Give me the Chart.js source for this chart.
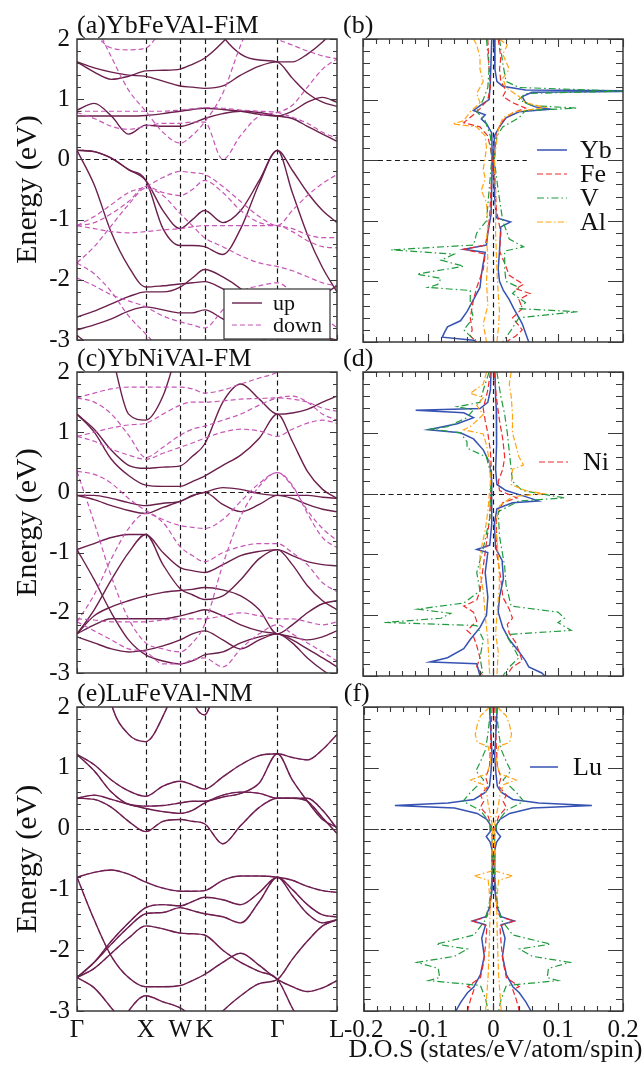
<!DOCTYPE html>
<html>
<head>
<meta charset="utf-8">
<script src="https://cdn.jsdelivr.net/npm/chart.js@4.4.1/dist/chart.umd.min.js"></script>
<style>
  body { margin: 0; background: #fff; font-family: "Liberation Serif", "DejaVu Serif", serif; }
  #wrap { position: relative; width: 643px; height: 1065px; overflow: hidden; }
  canvas { position: absolute; }
</style>
</head>
<body>
<div id="wrap">
  <canvas id="pa" width="360" height="362" style="left:0;top:0"></canvas>
  <canvas id="pb" width="303" height="362" style="left:340px;top:0"></canvas>
  <canvas id="pc" width="360" height="350" style="left:0;top:345px"></canvas>
  <canvas id="pd" width="303" height="350" style="left:340px;top:345px"></canvas>
  <canvas id="pe" width="360" height="387" style="left:0;top:678px"></canvas>
  <canvas id="pf" width="303" height="387" style="left:340px;top:678px"></canvas>
</div>
<script>
// k path: G X W K G L (FCC path lengths, 2pi/a)
const kGrid = [0, 0.25, 0.5, 0.75, 1, 1.25, 1.5, 1.677, 1.854, 2.12, 2.38, 2.65, 2.914, 3.13, 3.35, 3.57, 3.78];
const symK = [0, 1, 1.5, 1.854, 2.914, 3.78];
const symLabels = ['Γ', 'X', 'W', 'K', 'Γ', 'L'];

// (a) YbFeVAl-FiM bands, energies (eV) at kGrid
const aUp = [
  [0.15,-0.42,-1.22,-1.78,-2.12,-2.1,-2.07,-2.05,-2.03,-2.15,-2.32,-2.5,-2.62,-2.55,-2.4,-2.25,-2.1],
  [0.15,0.13,0.02,-0.17,-0.35,-0.85,-1.15,-1.0,-0.85,-1.05,-0.85,-0.35,0.15,-0.18,-0.55,-0.85,-1.05],
  [0.15,0.13,0.02,-0.17,-0.35,-1.15,-1.43,-1.43,-1.45,-1.58,-1.15,-0.4,0.15,-0.55,-1.25,-1.8,-2.2],
  [-2.62,-2.52,-2.4,-2.28,-2.2,-2.2,-2.12,-1.97,-1.83,-1.95,-2.15,-2.45,-2.75,-2.85,-2.9,-2.95,-3.0],
  [-2.83,-2.75,-2.65,-2.52,-2.45,-2.5,-2.55,-2.55,-2.5,-2.65,-2.8,-2.95,-3.1,-3.2,-3.2,-3.2,-3.2],
  [-2.92,-3.15,-3.4,-3.6,-3.6,-3.6,-3.6,-3.6,-3.6,-3.6,-3.6,-3.6,-3.6,-3.6,-3.6,-3.6,-3.6],
  [0.82,0.93,0.72,0.42,0.57,0.55,0.55,0.6,0.68,0.76,0.8,0.78,0.72,0.68,0.55,0.42,0.3],
  [0.72,0.72,0.72,0.72,0.73,0.76,0.8,0.83,0.85,0.83,0.8,0.75,0.72,0.8,0.95,1.03,0.95],
  [1.62,1.45,1.33,1.38,1.47,1.48,1.5,1.58,1.68,1.95,2.3,2.6,2.8,2.8,2.8,2.8,2.8],
  [1.62,1.52,1.45,1.4,1.38,1.3,1.22,1.2,1.18,1.22,1.4,1.55,1.62,1.62,1.75,1.95,2.2],
  [3,3,3,3,3,3,3,3,2.6,2.05,1.75,1.65,1.62,1.35,1.1,0.95,0.88]
];
const aDn = [
  [2.5,2.1,1.85,1.82,1.85,2.2,2.6,3,3,3,3,3,3,3,3,3,3],
  [3,2.3,1.7,1.15,0.8,0.45,0.27,0.4,0.62,1.1,1.9,2.6,3,3,3,3,3],
  [0.8,0.8,0.8,0.8,0.8,0.8,0.82,0.84,0.86,0.85,0.82,0.8,0.78,0.7,0.6,0.45,0.35],
  [0.78,0.68,0.55,0.5,0.55,0.6,0.6,0.62,0.62,0.0,0.4,0.72,0.78,0.9,1.2,1.5,1.67],
  [-1.1,-0.95,-0.75,-0.55,-0.45,-0.3,-0.2,-0.22,-0.25,-0.45,-0.7,-0.95,-1.1,-0.85,-0.6,-0.4,-0.25],
  [-1.1,-1.05,-0.9,-0.7,-0.45,-0.55,-0.6,-0.5,-0.35,-0.55,-0.85,-1.05,-1.1,-1.15,-1.25,-1.3,-1.3],
  [-1.1,-1.15,-1.2,-1.22,-1.2,-1.17,-1.15,-1.12,-1.1,-1.1,-1.1,-1.1,-1.1,-1.2,-1.35,-1.45,-1.47],
  [-1.72,-1.45,-1.1,-0.75,-0.48,-0.6,-0.9,-1.1,-1.3,-1.45,-1.6,-1.72,-1.78,-1.85,-1.95,-2.05,-2.1],
  [-1.97,-2.1,-2.25,-2.35,-2.45,-2.6,-2.7,-2.75,-2.8,-2.5,-2.2,-2.1,-2.05,-2.2,-2.4,-2.6,-2.8],
  [-1.72,-1.9,-2.2,-2.6,-2.9,-3.2,-3.5,-3.5,-3.5,-3.5,-3.5,-3.5,-3.5,-3.5,-3.5,-3.5,-3.5],
  [3,3,3,3,3,3,3,3,3,3,2.6,2.2,2.0,1.9,1.8,1.72,1.67]
];

// (c) YbNiVAl-FM bands
const cUp = [
  [1.3,1.05,0.7,0.45,0.4,0.42,0.44,0.6,0.8,1.5,1.8,1.55,1.3,1.32,1.38,1.5,1.6],
  [1.3,1.0,0.55,0.28,0.12,0.1,0.1,0.18,0.27,0.45,0.62,0.9,1.3,0.85,0.35,0.05,-0.1],
  [3,3,2.3,1.3,1.2,1.6,2.5,3,3,3,3,3,3,3,3,3,3],
  [-0.05,-0.05,-0.1,-0.17,-0.22,-0.18,-0.15,-0.05,0.0,0.08,0.05,-0.02,-0.05,-0.05,-0.05,-0.08,-0.1],
  [-0.05,-0.12,-0.22,-0.3,-0.35,-0.25,-0.15,-0.06,0.0,-0.2,-0.32,-0.2,-0.05,-0.1,-0.2,-0.28,-0.32],
  [-0.95,-0.85,-0.75,-0.7,-0.7,-1.0,-1.25,-1.3,-1.33,-1.2,-1.05,-0.98,-0.95,-1.05,-1.15,-1.2,-1.22],
  [-0.95,-1.45,-2.0,-2.45,-2.7,-2.8,-2.85,-2.8,-2.7,-2.65,-2.5,-2.4,-2.35,-2.5,-2.75,-2.95,-3.1],
  [-2.35,-2.05,-1.9,-1.8,-1.72,-1.66,-1.63,-1.61,-1.58,-1.62,-1.72,-1.95,-2.35,-2.2,-2.0,-1.85,-1.8],
  [-2.35,-1.95,-1.45,-1.0,-0.7,-1.2,-1.6,-1.7,-1.78,-1.72,-1.45,-1.1,-0.95,-1.2,-1.55,-1.8,-1.95],
  [-2.35,-2.2,-2.1,-2.1,-2.1,-2.1,-2.05,-2.0,-1.95,-2.05,-2.2,-2.3,-2.35,-2.4,-2.45,-2.4,-2.3],
  [-2.4,-2.5,-2.6,-2.65,-2.62,-2.55,-2.45,-2.35,-2.3,-2.45,-2.6,-2.45,-2.35,-2.45,-2.6,-2.75,-2.9]
];
const cDn = [
  [1.57,1.65,1.72,1.75,1.75,1.75,1.75,1.72,1.65,1.7,1.8,1.9,2.0,2.2,2.4,2.6,2.8],
  [0.93,1.0,1.07,1.12,1.15,1.3,1.45,1.5,1.5,1.52,1.55,1.56,1.57,1.55,1.5,1.4,1.35],
  [0.93,0.85,0.72,0.62,0.55,0.65,0.75,0.82,0.9,1.0,1.05,1.02,0.93,1.05,1.15,1.2,1.15],
  [0.35,0.3,0.15,-0.1,-0.3,-0.45,-0.55,-0.58,-0.6,-0.45,-0.15,0.15,0.33,0.1,-0.3,-0.6,-0.8],
  [0.35,-0.5,-1.4,-2.1,-2.5,-2.6,-2.65,-2.5,-2.2,-1.2,-0.4,0.1,0.33,0.12,-0.35,-0.75,-0.92],
  [-2.1,-2.12,-2.15,-2.15,-2.15,-2.12,-2.1,-2.1,-2.1,-2.05,-2.0,-2.05,-2.1,-2.1,-2.15,-2.2,-2.15],
  [-2.15,-1.7,-1.1,-0.6,-0.35,-0.5,-0.9,-1.05,-1.15,-1.0,-0.9,-0.85,-0.85,-1.0,-1.2,-1.5,-1.65],
  [-2.15,-2.3,-2.45,-2.6,-2.65,-2.85,-2.85,-2.78,-2.75,-2.9,-2.6,-2.35,-2.2,-2.35,-2.5,-2.65,-2.8],
  [1.57,1.5,1.3,0.95,0.58,0.75,0.95,1.05,1.1,1.2,1.3,1.45,1.57,1.6,1.5,1.3,1.2]
];

// (e) LuFeVAl-NM bands (spin up and down coincide)
const eBands = [
  [4,3.5,2.05,1.55,1.43,1.85,2.6,3.5,4,4,4,4,4,4,4,4,4],
  [4,4,4,4,4,4,3.2,2.15,1.87,2.9,4,4,4,4,4,4,4],
  [1.22,1.05,0.8,0.62,0.53,0.7,0.78,0.72,0.65,0.85,1.05,1.2,1.23,1.17,1.13,1.3,1.55],
  [1.22,0.95,0.6,0.4,0.37,0.38,0.42,0.45,0.45,0.52,0.58,0.75,1.23,0.8,0.45,0.15,0.02],
  [0.5,0.55,0.48,0.4,0.33,0.28,0.25,0.3,0.42,0.55,0.6,0.58,0.5,0.5,0.5,0.3,0.0],
  [0.5,0.48,0.35,0.12,-0.05,0.12,0.15,0.12,0.08,-0.25,0.05,0.35,0.5,0.5,0.45,0.18,-0.08],
  [-0.8,-0.72,-0.68,-0.75,-0.88,-0.98,-1.03,-1.03,-1.02,-0.85,-0.78,-0.78,-0.8,-0.85,-0.95,-1.02,-1.05],
  [-0.8,-1.5,-2.1,-2.45,-2.6,-2.6,-2.58,-2.5,-2.4,-2.2,-2.05,-2.25,-2.48,-2.6,-2.68,-2.62,-2.5],
  [-2.45,-2.2,-1.85,-1.55,-1.3,-1.25,-1.27,-1.2,-1.13,-1.17,-1.25,-1.05,-0.8,-1.1,-1.4,-1.55,-1.5],
  [-2.45,-2.2,-1.9,-1.62,-1.4,-1.38,-1.3,-1.35,-1.4,-1.45,-1.55,-1.2,-0.8,-1.0,-1.25,-1.42,-1.45],
  [-2.45,-2.3,-2.05,-1.8,-1.6,-1.65,-1.72,-1.73,-1.75,-2.0,-2.2,-2.35,-2.48,-2.95,-3.4,-3.8,-4],
  [-2.45,-2.62,-2.95,-3.3,-3.6,-3.6,-3.6,-3.6,-3.6,-3.6,-3.6,-3.6,-3.6,-3.6,-3.6,-3.6,-3.6],
  [-4,-4,-3.5,-3.0,-2.75,-2.85,-2.95,-3.1,-3.3,-3.0,-2.75,-2.55,-2.48,-2.15,-1.85,-1.6,-1.5]
];

// DOS, pairs of [energy (eV), states/eV/atom/spin]; spin down negative
const bYbUp = [[2,0.002],[1.5,0.003],[1.3,0.006],[1.22,0.015],[1.16,0.05],[1.14,0.25],[1.12,0.06],[1.05,0.045],[0.95,0.05],[0.88,0.065],[0.84,0.088],[0.8,0.04],[0.7,0.02],[0.55,0.01],[0.4,0.002],[0,0.001],[-0.5,0.002],[-0.95,0.005],[-1.02,0.027],[-1.1,0.012],[-1.5,0.01],[-1.8,0.008],[-2,0.01],[-2.15,0.016],[-2.3,0.025],[-2.45,0.032],[-2.6,0.04],[-2.7,0.045],[-2.85,0.05],[-3,0.055]];
const bYbDn = [[2,-0.002],[1.3,-0.004],[1,-0.006],[0.9,-0.02],[0.82,-0.03],[0.75,-0.012],[0.68,-0.018],[0.6,-0.01],[0.45,-0.002],[0,-0.001],[-0.9,-0.003],[-1.2,-0.008],[-1.4,-0.01],[-1.47,-0.045],[-1.52,-0.012],[-1.7,-0.015],[-1.9,-0.018],[-2.1,-0.02],[-2.3,-0.03],[-2.5,-0.04],[-2.65,-0.05],[-2.75,-0.07],[-2.85,-0.075],[-2.92,-0.078],[-2.97,-0.03],[-3,-0.025]];
const bFeUp = [[2,0.008],[1.7,0.012],[1.5,0.01],[1.3,0.012],[1.15,0.02],[1.05,0.015],[0.95,0.03],[0.86,0.05],[0.78,0.03],[0.65,0.015],[0.45,0.005],[0,0.002],[-0.8,0.005],[-1.2,0.012],[-1.5,0.01],[-1.7,0.018],[-1.9,0.025],[-2.05,0.047],[-2.12,0.035],[-2.2,0.057],[-2.3,0.04],[-2.45,0.045],[-2.6,0.03],[-2.8,0.045],[-2.9,0.035],[-3,0.02]];
const bFeDn = [[2,-0.008],[1.5,-0.006],[1.2,-0.004],[1,-0.008],[0.85,-0.02],[0.75,-0.03],[0.62,-0.045],[0.55,-0.02],[0.4,-0.008],[0.2,-0.004],[0,-0.001],[-0.9,-0.005],[-1.2,-0.008],[-1.4,-0.012],[-1.47,-0.045],[-1.55,-0.012],[-1.8,-0.015],[-2.1,-0.025],[-2.3,-0.03],[-2.6,-0.035],[-2.8,-0.032],[-2.9,-0.035],[-3,-0.025]];
const bVUp = [[2,0.01],[1.6,0.015],[1.3,0.02],[1.2,0.04],[1.14,0.2],[1.1,0.05],[1,0.04],[0.9,0.06],[0.86,0.13],[0.82,0.05],[0.7,0.04],[0.55,0.015],[0.4,0.006],[0,0.002],[-0.5,0.008],[-1,0.015],[-1.3,0.025],[-1.43,0.047],[-1.5,0.018],[-1.8,0.018],[-2,0.02],[-2.1,0.04],[-2.2,0.03],[-2.35,0.05],[-2.45,0.04],[-2.5,0.13],[-2.6,0.04],[-2.8,0.028],[-3,0.015]];
const bVDn = [[2,-0.01],[1.5,-0.006],[1.2,-0.008],[1,-0.015],[0.8,-0.025],[0.65,-0.012],[0.4,-0.004],[0,-0.002],[-1,-0.01],[-1.2,-0.025],[-1.4,-0.03],[-1.48,-0.157],[-1.55,-0.06],[-1.65,-0.08],[-1.75,-0.045],[-1.88,-0.117],[-1.95,-0.08],[-2.05,-0.085],[-2.1,-0.1],[-2.15,-0.035],[-2.4,-0.035],[-2.6,-0.03],[-2.8,-0.045],[-2.95,-0.03],[-3,-0.02]];
const bAlUp = [[2,0.01],[1.9,0.022],[1.75,0.015],[1.5,0.025],[1.35,0.015],[1.2,0.02],[1.05,0.04],[0.95,0.05],[0.87,0.08],[0.8,0.035],[0.7,0.015],[0.5,0.008],[0.2,0.004],[0,0.002],[-0.5,0.004],[-1.2,0.004],[-1.8,0.006],[-2.2,0.008],[-2.5,0.01],[-2.8,0.008],[-3,0.006]];
const bAlDn = [[2,-0.03],[1.9,-0.025],[1.7,-0.02],[1.5,-0.02],[1.3,-0.015],[1.1,-0.025],[0.95,-0.02],[0.8,-0.035],[0.65,-0.045],[0.6,-0.062],[0.55,-0.025],[0.4,-0.012],[0.2,-0.01],[-0.15,-0.015],[-0.3,-0.012],[-0.5,-0.018],[-0.7,-0.01],[-1.1,-0.008],[-1.3,-0.01],[-1.6,-0.008],[-2,-0.01],[-2.4,-0.008],[-2.7,-0.015],[-3,-0.01]];

const dYbUp = [[2,0.003],[1.6,0.004],[1.4,0.005],[1.2,0.006],[0.8,0.005],[0.4,0.004],[0.15,0.006],[0.05,0.02],[-0.05,0.05],[-0.12,0.07],[-0.15,0.03],[-0.25,0.006],[-0.5,0.002],[-0.9,0.004],[-1.1,0.014],[-1.4,0.016],[-1.7,0.01],[-1.95,0.008],[-2.2,0.015],[-2.4,0.025],[-2.6,0.04],[-2.75,0.05],[-2.85,0.055],[-2.95,0.075],[-3,0.08]];
const dYbDn = [[2,-0.003],[1.7,-0.004],[1.5,-0.008],[1.4,-0.02],[1.37,-0.119],[1.33,-0.045],[1.25,-0.03],[1.15,-0.055],[1.05,-0.1],[1,-0.05],[0.9,-0.03],[0.72,-0.015],[0.5,-0.005],[0.2,-0.002],[-0.5,-0.002],[-0.85,-0.005],[-0.92,-0.025],[-0.97,-0.008],[-1.3,-0.012],[-1.7,-0.008],[-2,-0.01],[-2.2,-0.02],[-2.4,-0.035],[-2.55,-0.045],[-2.7,-0.07],[-2.77,-0.097],[-2.8,-0.025],[-3,-0.02]];
const dNiUp = [[2,0.002],[1.6,0.005],[1.2,0.01],[0.9,0.015],[0.6,0.018],[0.4,0.015],[0.2,0.008],[0.05,0.01],[-0.07,0.037],[-0.15,0.015],[-0.4,0.005],[-1,0.006],[-1.4,0.012],[-1.7,0.015],[-1.9,0.025],[-2.05,0.03],[-2.15,0.022],[-2.3,0.025],[-2.45,0.035],[-2.6,0.04],[-2.75,0.045],[-2.85,0.03],[-3,0.02]];
const dNiDn = [[2,-0.004],[1.7,-0.008],[1.4,-0.015],[1.2,-0.012],[1,-0.008],[0.7,-0.004],[0.3,-0.002],[-0.4,-0.005],[-0.8,-0.01],[-1.2,-0.015],[-1.6,-0.02],[-1.75,-0.025],[-1.85,-0.045],[-1.95,-0.03],[-2.1,-0.025],[-2.25,-0.04],[-2.35,-0.03],[-2.5,-0.025],[-2.7,-0.02],[-2.85,-0.025],[-3,-0.015]];
const dVUp = [[2,0.006],[1.6,0.012],[1.3,0.018],[1,0.022],[0.7,0.025],[0.4,0.028],[0.2,0.03],[0.05,0.045],[-0.07,0.11],[-0.12,0.04],[-0.3,0.008],[-0.7,0.01],[-1.2,0.018],[-1.5,0.02],[-1.85,0.028],[-1.95,0.1],[-2.05,0.11],[-2.12,0.1],[-2.25,0.12],[-2.32,0.02],[-2.5,0.03],[-2.7,0.04],[-2.85,0.025],[-3,0.015]];
const dVDn = [[2,-0.006],[1.7,-0.015],[1.5,-0.02],[1.43,-0.055],[1.38,-0.03],[1.25,-0.04],[1.1,-0.07],[1.06,-0.096],[1,-0.05],[0.85,-0.04],[0.75,-0.04],[0.6,-0.01],[0.3,-0.003],[-0.4,-0.005],[-0.9,-0.015],[-1.3,-0.025],[-1.6,-0.02],[-1.8,-0.045],[-1.9,-0.116],[-1.97,-0.065],[-2.05,-0.08],[-2.12,-0.167],[-2.17,-0.025],[-2.4,-0.015],[-2.7,-0.02],[-3,-0.015]];
const dAlUp = [[2,0.028],[1.8,0.025],[1.6,0.028],[1.3,0.03],[1,0.03],[0.8,0.035],[0.6,0.04],[0.47,0.047],[0.4,0.03],[0.15,0.028],[0.05,0.05],[0,0.077],[-0.05,0.03],[-0.2,0.01],[-0.5,0.004],[-1,0.008],[-1.5,0.01],[-2,0.006],[-2.3,0.004],[-2.6,0.008],[-3,0.006]];
const dAlDn = [[2,-0.01],[1.8,-0.015],[1.65,-0.035],[1.58,-0.015],[1.45,-0.025],[1.3,-0.015],[1.1,-0.035],[1.05,-0.045],[0.98,-0.015],[0.8,-0.01],[0.5,-0.005],[0.2,-0.004],[-0.3,-0.008],[-0.6,-0.012],[-1,-0.02],[-1.3,-0.02],[-1.6,-0.015],[-2,-0.012],[-2.4,-0.008],[-2.8,-0.006],[-3,-0.005]];

// (f) non-magnetic: spin down mirrors spin up
const fLu = [[2,0.006],[1.6,0.004],[1.2,0.002],[0.9,0.004],[0.7,0.006],[0.6,0.012],[0.48,0.03],[0.42,0.07],[0.38,0.152],[0.34,0.06],[0.25,0.025],[0.15,0.01],[0.05,0.004],[-0.05,0.005],[-0.13,0.011],[-0.22,0.005],[-0.4,0.001],[-1,0.002],[-1.3,0.006],[-1.45,0.012],[-1.52,0.032],[-1.58,0.012],[-1.8,0.018],[-2.1,0.014],[-2.4,0.02],[-2.6,0.03],[-2.7,0.04],[-2.85,0.05],[-3,0.058]];
const fFe = [[2,0.002],[1.5,0.004],[1,0.006],[0.85,0.012],[0.7,0.008],[0.55,0.02],[0.45,0.015],[0.35,0.02],[0.2,0.008],[0,0.002],[-0.8,0.002],[-1.3,0.005],[-1.45,0.01],[-1.52,0.032],[-1.6,0.01],[-1.9,0.012],[-2.2,0.015],[-2.45,0.02],[-2.6,0.04],[-2.65,0.03],[-2.8,0.035],[-3,0.04]];
const fV = [[2,0.004],[1.6,0.008],[1.3,0.012],[1.1,0.02],[0.95,0.027],[0.8,0.015],[0.6,0.035],[0.45,0.047],[0.3,0.02],[0.1,0.006],[-0.1,0.002],[-0.8,0.002],[-1.2,0.006],[-1.5,0.012],[-1.75,0.03],[-1.9,0.088],[-1.98,0.04],[-2.1,0.06],[-2.2,0.118],[-2.3,0.085],[-2.45,0.083],[-2.5,0.1],[-2.58,0.02],[-2.8,0.012],[-3,0.008]];
const fAl = [[2,0.006],[1.85,0.02],[1.7,0.025],[1.55,0.028],[1.42,0.025],[1.35,0.008],[1.1,0.004],[0.9,0.01],[0.8,0.035],[0.72,0.015],[0.55,0.01],[0.4,0.008],[0.2,0.004],[0,0.001],[-0.7,0.003],[-0.78,0.03],[-0.85,0.008],[-1.2,0.005],[-1.8,0.006],[-2.4,0.008],[-3,0.012]];

const SERIF = '"Liberation Serif", "DejaVu Serif", serif';
Chart.defaults.font.family = SERIF;
Chart.defaults.color = '#111';

const upStyle = {c: '#6b1f4c', dash: [], w: 1.4};
const dnStyle = {c: '#c655b6', dash: [5, 3], w: 1.2};
const dosStyle = {
  A: {c: '#3652b2', dash: [], w: 1.5},
  B: {c: '#ee2b2b', dash: [6, 3], w: 1.2},
  V: {c: '#1f9b3d', dash: [7, 3, 1.5, 3], w: 1.2},
  Al: {c: '#ffa514', dash: [6, 2.5, 6, 2.5, 1.5, 2.5], w: 1.2}
};

function bandLines(list, st) {
  return list.map(b => ({
    data: b.map((e, i) => ({x: kGrid[i], y: e})),
    showLine: true, borderColor: st.c, borderWidth: st.w, borderDash: st.dash,
    pointRadius: 0, cubicInterpolationMode: 'monotone', fill: false
  }));
}
function dosLine(pts, st, sign = 1) {
  return {
    data: pts.map(p => ({x: sign * p[1], y: p[0]})),
    showLine: true, borderColor: st.c, borderWidth: st.w, borderDash: st.dash,
    pointRadius: 0, tension: 0, fill: false
  };
}

// frame, inward ticks, guide lines, panel title, legend
const deco = {
  id: 'deco',
  beforeDatasetsDraw(chart, args, o) {
    const {ctx, chartArea: a, scales: {x, y}} = chart;
    ctx.save();
    ctx.strokeStyle = '#1a1a1a';
    ctx.lineWidth = 1.2;
    ctx.setLineDash([5, 3.5]);
    ctx.beginPath();
    (o.vLines || []).forEach(v => {
      const px = Math.round(x.getPixelForValue(v)) + 0.5;
      ctx.moveTo(px, a.top); ctx.lineTo(px, a.bottom);
    });
    const py = Math.round(y.getPixelForValue(0)) + 0.5;
    ctx.moveTo(o.zeroSpan ? x.getPixelForValue(o.zeroSpan[0]) : a.left, py);
    ctx.lineTo(o.zeroSpan ? x.getPixelForValue(o.zeroSpan[1]) : a.right, py);
    ctx.stroke();
    ctx.restore();
  },
  afterDatasetsDraw(chart, args, o) {
    const {ctx, chartArea: a, scales: {x, y}} = chart;
    ctx.save();
    ctx.strokeStyle = '#3a3a3a';
    ctx.lineWidth = 1.1;
    ctx.beginPath();
    for (let i = -15; i <= 10; i++) {
      const py = Math.round(y.getPixelForValue(i / 5)) + 0.5;
      const len = i % 5 === 0 ? o.yMajor : o.yMinor;
      ctx.moveTo(a.left, py); ctx.lineTo(a.left + len, py);
      ctx.moveTo(a.right, py); ctx.lineTo(a.right - len, py);
    }
    if (o.dosTicks) {
      for (let i = -10; i <= 10; i++) {
        const px = Math.round(x.getPixelForValue(i / 50)) + 0.5;
        const len = i % 5 === 0 ? 8 : 5;
        ctx.moveTo(px, a.top); ctx.lineTo(px, a.top + len);
        ctx.moveTo(px, a.bottom); ctx.lineTo(px, a.bottom - len);
      }
    } else {
      symK.forEach(v => {
        const px = Math.round(x.getPixelForValue(v)) + 0.5;
        ctx.moveTo(px, a.bottom); ctx.lineTo(px, a.bottom - 5);
      });
    }
    ctx.stroke();
    ctx.lineWidth = 1.5;
    ctx.strokeRect(a.left, a.top, a.right - a.left, a.bottom - a.top);

    ctx.fillStyle = '#111';
    ctx.font = '26px ' + SERIF;
    ctx.textBaseline = 'alphabetic';
    ctx.fillText(o.title, a.left + o.titleDx, a.top - 6);

    if (o.xTitle) {
      ctx.textAlign = 'center';
      ctx.fillText(o.xTitle, (a.left + a.right) / 2 + 2, a.bottom + 46);
      ctx.textAlign = 'left';
    }

    const lg = o.legend;
    if (lg) {
      if (lg.box) {
        ctx.fillStyle = '#fff';
        ctx.fillRect(...lg.box);
        ctx.lineWidth = 1.2;
        ctx.strokeStyle = '#333';
        ctx.strokeRect(...lg.box);
      }
      ctx.font = lg.font + 'px ' + SERIF;
      ctx.textBaseline = 'middle';
      lg.items.forEach(it => {
        ctx.strokeStyle = it.st.c;
        ctx.lineWidth = it.st.w;
        ctx.setLineDash(it.st.dash);
        ctx.beginPath();
        ctx.moveTo(lg.x0, it.y); ctx.lineTo(lg.x1, it.y);
        ctx.stroke();
        ctx.fillStyle = '#111';
        ctx.fillText(it.label, lg.tx, it.y + 1);
      });
    }
    ctx.restore();
  }
};

const rows = [
  {top: 39, xh: 20, labels: false},
  {top: 27, xh: 19, labels: false},
  {top: 29, xh: 54, labels: true}
];

function bandChart(id, datasets, row, opts) {
  return new Chart(document.getElementById(id), {
    type: 'scatter',
    data: {datasets},
    plugins: [deco],
    options: {
      responsive: false, animation: false, events: [],
      layout: {padding: {top: row.top, right: 23, left: 0, bottom: 0}},
      plugins: {legend: {display: false}, tooltip: {enabled: false},
        deco: Object.assign({vLines: symK.slice(1, 5), yMajor: 7, yMinor: 4, titleDx: 0}, opts)},
      scales: {
        x: {
          type: 'linear', min: 0, max: symK[5],
          afterFit: s => { s.height = row.xh; },
          afterBuildTicks: s => { s.ticks = symK.map(v => ({value: v})); },
          ticks: {display: row.labels, autoSkip: false, maxRotation: 0, padding: 4,
            font: {size: 25}, callback: (v, i) => symLabels[i]},
          grid: {display: false, drawTicks: false}, border: {display: false}
        },
        y: {
          type: 'linear', min: -3, max: 2,
          afterFit: s => { s.width = 77; },
          ticks: {stepSize: 1, padding: 7, font: {size: 25}},
          grid: {display: false, drawTicks: false}, border: {display: false},
          title: {display: true, text: 'Energy (eV)', font: {size: 30}, padding: {top: 10, bottom: 0}}
        }
      }
    }
  });
}

function dosChart(id, datasets, row, opts) {
  return new Chart(document.getElementById(id), {
    type: 'scatter',
    data: {datasets},
    plugins: [deco],
    options: {
      responsive: false, animation: false, events: [],
      layout: {padding: {top: row.top, right: 20, left: 0, bottom: 0}},
      plugins: {legend: {display: false}, tooltip: {enabled: false},
        deco: Object.assign({vLines: [0], yMajor: 15, yMinor: 7, dosTicks: true, titleDx: -20,
          xTitle: row.labels ? 'D.O.S (states/eV/atom/spin)' : null}, opts)},
      scales: {
        x: {
          type: 'linear', min: -0.2, max: 0.2,
          afterFit: s => { s.height = row.xh; },
          ticks: {display: row.labels, stepSize: 0.1, autoSkip: false, maxRotation: 0, padding: 4,
            font: {size: 25}, callback: v => String(Math.round(v * 10) / 10)},
          grid: {display: false, drawTicks: false}, border: {display: false}
        },
        y: {
          type: 'linear', min: -3, max: 2,
          afterFit: s => { s.width = 23; },
          ticks: {display: false},
          grid: {display: false, drawTicks: false}, border: {display: false}
        }
      }
    }
  });
}

function draw() {
  // (a)
  bandChart('pa', [...bandLines(aDn, dnStyle), ...bandLines(aUp, upStyle)], rows[0], {
    title: '(a)YbFeVAl-FiM',
    legend: {box: [224, 289, 106, 50], x0: 232, x1: 262, tx: 273, font: 22,
      items: [{label: 'up', st: upStyle, y: 303}, {label: 'down', st: dnStyle, y: 325}]}
  });
  // (b)
  dosChart('pb', [
    dosLine(bAlUp, dosStyle.Al), dosLine(bAlDn, dosStyle.Al),
    dosLine(bVUp, dosStyle.V), dosLine(bVDn, dosStyle.V),
    dosLine(bFeUp, dosStyle.B), dosLine(bFeDn, dosStyle.B),
    dosLine(bYbUp, dosStyle.A), dosLine(bYbDn, dosStyle.A)
  ], rows[0], {
    title: '(b)', zeroSpan: [-0.177, 0.052],
    legend: {x0: 197, x1: 227, tx: 240, font: 26, items: [
      {label: 'Yb', st: dosStyle.A, y: 150}, {label: 'Fe', st: dosStyle.B, y: 174},
      {label: 'V', st: dosStyle.V, y: 198}, {label: 'Al', st: dosStyle.Al, y: 222}]}
  });
  // (c)
  bandChart('pc', [...bandLines(cDn, dnStyle), ...bandLines(cUp, upStyle)], rows[1], {title: '(c)YbNiVAl-FM'});
  // (d)
  dosChart('pd', [
    dosLine(dAlUp, dosStyle.Al), dosLine(dAlDn, dosStyle.Al),
    dosLine(dVUp, dosStyle.V), dosLine(dVDn, dosStyle.V),
    dosLine(dNiUp, dosStyle.B), dosLine(dNiDn, dosStyle.B),
    dosLine(dYbUp, dosStyle.A), dosLine(dYbDn, dosStyle.A)
  ], rows[1], {
    title: '(d)',
    legend: {x0: 199, x1: 228, tx: 243, font: 26, items: [{label: 'Ni', st: dosStyle.B, y: 117}]}
  });
  // (e)
  bandChart('pe', [...bandLines(eBands, upStyle), ...bandLines(eBands, dnStyle)], rows[2], {title: '(e)LuFeVAl-NM'});
  // (f)
  dosChart('pf', [
    dosLine(fAl, dosStyle.Al), dosLine(fAl, dosStyle.Al, -1),
    dosLine(fV, dosStyle.V), dosLine(fV, dosStyle.V, -1),
    dosLine(fFe, dosStyle.B), dosLine(fFe, dosStyle.B, -1),
    dosLine(fLu, dosStyle.A), dosLine(fLu, dosStyle.A, -1)
  ], rows[2], {
    title: '(f)',
    legend: {x0: 190, x1: 218, tx: 233, font: 26, items: [{label: 'Lu', st: dosStyle.A, y: 89}]}
  });
}

Promise.all([
  document.fonts.load('26px "Liberation Serif"'),
  document.fonts.load('26px "DejaVu Serif"')
]).then(draw, draw);
</script>
</body>
</html>
